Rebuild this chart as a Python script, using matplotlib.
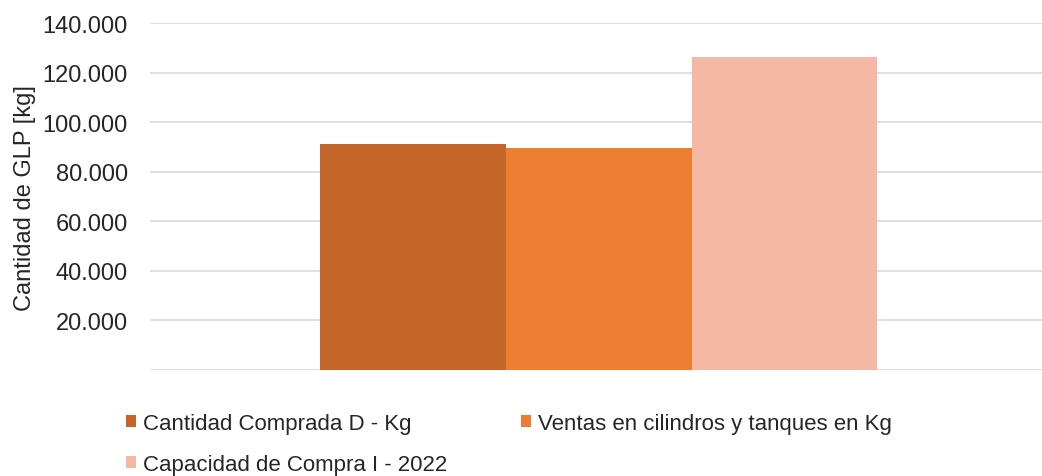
import matplotlib.pyplot as plt
from matplotlib.ticker import FuncFormatter

series = ['Cantidad Comprada D - Kg',
          'Ventas en cilindros y tanques en Kg',
          'Capacidad de Compra I - 2022']
values = [91100, 89600, 126300]
colors = ['#C46628', '#ED7D31', '#F4B8A5']

plt.rcParams['font.family'] = ['Liberation Sans', 'DejaVu Sans']

fig = plt.figure(figsize=(10.42, 4.77), dpi=100)
ax = fig.add_axes([150 / 1042, 1 - 371 / 477, 892 / 1042, (371 - 24.3) / 477])

width = 0.207
offsets = [-width, 0, width]
bars = []
for name, val, col, off in zip(series, values, colors, offsets):
    b = ax.bar(off, val, width=width, color=col, label=name, zorder=3)
    bars.append(b)

ax.set_xlim(-0.5, 0.494)
ax.set_ylim(0, 140000)
ax.set_yticks(range(20000, 140001, 20000))
ax.yaxis.set_major_formatter(FuncFormatter(lambda v, p: f'{int(v):,}'.replace(',', '.')))
ax.set_xticks([])
ax.tick_params(axis='y', length=0, labelsize=17, pad=16, labelcolor='#262626')
for gy in range(0, 140001, 20000):
    ax.axhline(gy, color='#D9D9D9', lw=1.2, zorder=1)
for s in ax.spines.values():
    s.set_visible(False)

ax.set_ylabel('Cantidad de GLP [kg]', fontsize=17, color='#262626', labelpad=5)

# row-wise legend order (matplotlib fills columns first)
order = [0, 2, 1]
fig.legend(handles=[bars[i] for i in order], labels=[series[i] for i in order],
           ncol=2, frameon=False,
           loc='upper left', bbox_to_anchor=(115 / 1042, 1 - 403 / 477),
           fontsize=16, handlelength=0.45, handleheight=0.45, handletextpad=0.3,
           columnspacing=3.35, labelspacing=0.9, labelcolor='#262626',
           borderpad=0)

fig.savefig('out.png', dpi=100)
